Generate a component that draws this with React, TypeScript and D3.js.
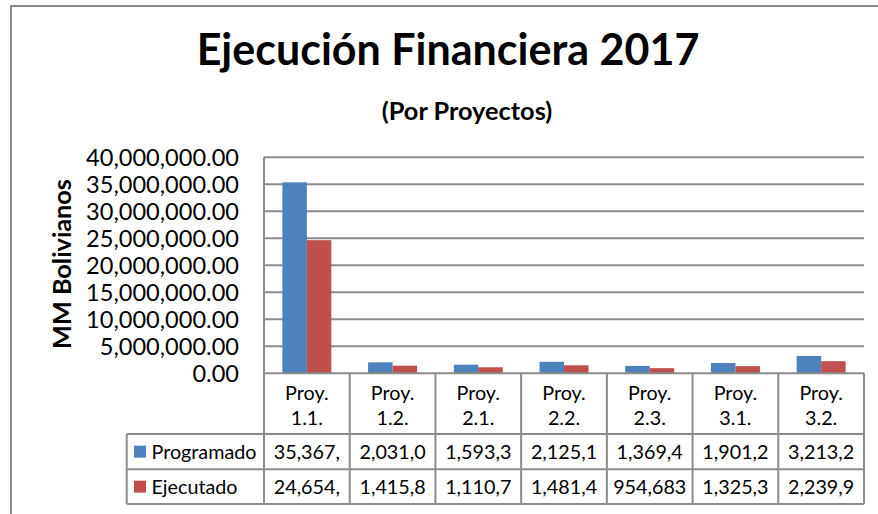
import React from "react";
import * as d3 from "d3";

const categories = ["Proy. 1.1.", "Proy. 1.2.", "Proy. 2.1.", "Proy. 2.2.", "Proy. 2.3.", "Proy. 3.1.", "Proy. 3.2."];
const programado = [35367500, 2031050, 1593350, 2125150, 1369450, 1901250, 3213250];
const ejecutado = [24654500, 1415850, 1110750, 1481450, 954683.5, 1325350, 2239950];
const seriesNames = ["Programado", "Ejecutado"];
const seriesColors = ["#4F81BD", "#C0504D"];
const yTicks = [0, 5000000, 10000000, 15000000, 20000000, 25000000, 30000000, 35000000, 40000000];
const titleText = "Ejecución Financiera 2017";
const subtitleText = "(Por Proyectos)";
const yAxisTitle = "MM Bolivianos";

const FONT = "Lato, 'Open Sans', sans-serif";

let ctx: CanvasRenderingContext2D | null = null;
function measure(text: string, size: number, weight = "normal") {
  if (!ctx) ctx = document.createElement("canvas").getContext("2d");
  if (!ctx) return text.length * size * 0.5;
  ctx.font = `${weight} ${size}px Lato`;
  return ctx.measureText(text).width;
}
function fitSize(text: string, target: number, weight = "normal") {
  return (100 * target) / measure(text, 100, weight);
}
function truncate(text: string, size: number, maxW: number) {
  let t = text;
  while (t.length > 1 && measure(t, size) > maxW) t = t.slice(0, -1);
  return t;
}

export default function App() {
  const W = 878, H = 514;
  const left = 264, right = 864, top = 157.3, bottom = 373.3;
  const headerBottom = 434, row1Bottom = 469.3, row2Bottom = 504;
  const legendLeft = 126.7;

  const x0 = d3.scaleBand<string>().domain(categories).range([left, right]).paddingInner(0).paddingOuter(0);
  const inner = d3.scaleBand<string>().domain(seriesNames).range([0, x0.bandwidth()]).paddingInner(0).paddingOuter(0.75);
  const y = d3.scaleLinear().domain([0, 40000000]).range([bottom, top]);
  const fmt = d3.format(",.2f");

  const titleSize = fitSize(titleText, 503, "bold");
  const subSize = fitSize(subtitleText, 171, "bold");
  const yTitleSize = fitSize(yAxisTitle, 170, "bold");
  const tickSize = fitSize("40,000,000.00", 153);
  const tableSize = fitSize("Programado", 105);

  const series = [programado, ejecutado];
  const grid = "#8C8C8C";

  return (
    <svg width={W} height={H} style={{ position: "absolute", left: 0, top: 0, fontFamily: FONT, overflow: "hidden" }}>
      <rect x={0} y={0} width={W} height={H} fill="#fff" />
      <rect x={11} y={6} width={W + 20} height={H + 20} fill="none" stroke={grid} strokeWidth={2} />
      <text x={448} y={65} textAnchor="middle" fontSize={titleSize} fontWeight="bold" fill="#000">{titleText}</text>
      <text x={467} y={120} textAnchor="middle" fontSize={subSize} fontWeight="bold" fill="#000">{subtitleText}</text>
      <text transform={`translate(71,264) rotate(-90)`} textAnchor="middle" fontSize={yTitleSize} fontWeight="bold" fill="#000">{yAxisTitle}</text>

      {yTicks.map((t) => (
        <g key={t}>
          {t > 0 && <line x1={left} x2={right} y1={y(t)} y2={y(t)} stroke={grid} strokeWidth={2} />}
          <text x={239} y={y(t)} dy="0.36em" textAnchor="end" fontSize={tickSize} fill="#000">{fmt(t)}</text>
        </g>
      ))}

      {categories.map((c, i) => (
        <g key={c}>
          {series.map((s, k) => (
            <rect key={k} x={(x0(c) as number) + (inner(seriesNames[k]) as number)} y={y(s[i])}
              width={inner.bandwidth()} height={bottom - y(s[i])} fill={seriesColors[k]} />
          ))}
        </g>
      ))}

      <line x1={left} x2={left} y1={top} y2={row2Bottom} stroke={grid} strokeWidth={2} />
      <line x1={left} x2={right} y1={bottom} y2={bottom} stroke={grid} strokeWidth={2} />
      {categories.map((c) => (
        <line key={c} x1={(x0(c) as number) + x0.bandwidth()} x2={(x0(c) as number) + x0.bandwidth()} y1={bottom} y2={row2Bottom} stroke={grid} strokeWidth={2} />
      ))}
      {[headerBottom, row1Bottom, row2Bottom].map((yy) => (
        <line key={yy} x1={legendLeft} x2={right} y1={yy} y2={yy} stroke={grid} strokeWidth={2} />
      ))}
      <line x1={legendLeft} x2={legendLeft} y1={headerBottom} y2={row2Bottom} stroke={grid} strokeWidth={2} />

      {categories.map((c) => {
        const cx = (x0(c) as number) + x0.bandwidth() / 2;
        const [a, b] = c.split(" ");
        return (
          <g key={c}>
            <text x={cx} y={393} dy="0.36em" textAnchor="middle" fontSize={tableSize} fill="#000">{a}</text>
            <text x={cx} y={418} dy="0.36em" textAnchor="middle" fontSize={tableSize} fill="#000">{b}</text>
          </g>
        );
      })}

      {series.map((s, k) => {
        const cy = k === 0 ? (headerBottom + row1Bottom) / 2 : (row1Bottom + row2Bottom) / 2;
        return (
          <g key={k}>
            <rect x={134} y={cy - 6} width={12} height={12} fill={seriesColors[k]} />
            <text x={151.5} y={cy} dy="0.36em" fontSize={tableSize} fill="#000">{seriesNames[k]}</text>
            {categories.map((c, i) => (
              <text key={c} x={(x0(c) as number) + x0.bandwidth() / 2} y={cy} dy="0.36em" textAnchor="middle" fontSize={tableSize} fill="#000">
                {truncate(fmt(s[i]), tableSize, x0.bandwidth() - 9.5)}
              </text>
            ))}
          </g>
        );
      })}
    </svg>
  );
}
